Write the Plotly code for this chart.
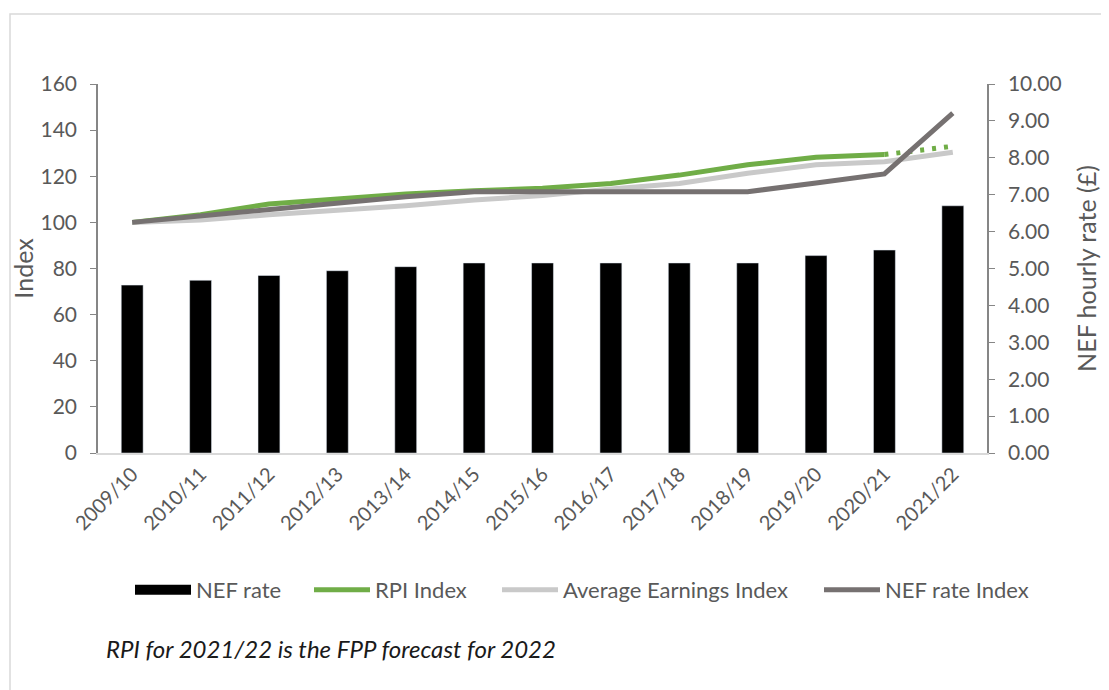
import plotly.graph_objects as go

categories = ["2009/10", "2010/11", "2011/12", "2012/13", "2013/14", "2014/15", "2015/16",
              "2016/17", "2017/18", "2018/19", "2019/20", "2020/21", "2021/22"]
nef_rate = [4.55, 4.68, 4.81, 4.94, 5.05, 5.15, 5.15, 5.15, 5.15, 5.15, 5.35, 5.50, 6.70]
rpi_index = [100, 103.3, 108.0, 110.1, 112.3, 113.7, 114.8, 116.9, 120.5, 125.0, 128.2, 129.4]
rpi_forecast = [129.4, 133.0]
aei_index = [100, 101.0, 103.3, 105.0, 107.2, 109.7, 111.6, 114.5, 116.9, 121.3, 125.0, 126.3, 130.4]
nef_index = [100, 102.9, 105.8, 108.7, 111.1, 113.3, 113.3, 113.3, 113.3, 113.3, 117.1, 121.0, 147.4]

FONT = "Lato"
TXT = "#595959"
GREEN = "#70ad47"
LIGHT = "#c9c9c9"
DARK = "#767171"

fig = go.Figure()
fig.add_trace(go.Bar(x=categories, y=nef_rate, name="NEF rate", marker_color="#000000",
                     width=0.32, yaxis="y", showlegend=False))
# legend proxy for bar (wide black box as in the reference)
fig.add_trace(go.Scatter(x=[None], y=[None], mode="lines", name="NEF rate",
                         line=dict(color="#000000", width=15), yaxis="y2", legend="legend"))
fig.add_trace(go.Scatter(x=categories[:12], y=rpi_index, mode="lines", name="RPI Index",
                         line=dict(color=GREEN, width=5), yaxis="y2", legend="legend2"))
fig.add_trace(go.Scatter(x=categories[11:], y=rpi_forecast, mode="lines", name="RPI forecast",
                         line=dict(color=GREEN, width=5, dash="4px,8px"), yaxis="y2", showlegend=False))
fig.add_trace(go.Scatter(x=categories, y=aei_index, mode="lines", name="Average Earnings Index",
                         line=dict(color=LIGHT, width=5), yaxis="y2", legend="legend3"))
fig.add_trace(go.Scatter(x=categories, y=nef_index, mode="lines", name="NEF rate Index",
                         line=dict(color=DARK, width=5), yaxis="y2", legend="legend4"))

W, H = 1109, 690
OFF = 8  # page body margin
L, T = 98 - OFF, 84 - OFF
pw, ph = 889, 369
R = W - L - pw
B = H - T - ph

def px(x):
    return (x - 98) / pw

def py(y):
    return (453 - y) / ph

leg_common = dict(orientation="h", yanchor="middle", xanchor="left", itemwidth=56,
                  font=dict(family=FONT, size=22, color=TXT), bgcolor="rgba(0,0,0,0)")

fig.update_layout(
    width=W, height=H,
    margin=dict(l=L, r=R, t=T, b=B),
    paper_bgcolor="white", plot_bgcolor="white",
    font=dict(family=FONT, color=TXT),
    xaxis=dict(type="category", range=[-0.5, 12.5], showline=True, linecolor="#d9d9d9", linewidth=1.5,
               ticks="", tickangle=-45, tickfont=dict(size=20, color=TXT, family=FONT), showgrid=False),
    yaxis=dict(side="right", range=[0, 10], dtick=1, tickformat=".2f", showline=True, linecolor="#868686",
               linewidth=1.5, ticks="outside", ticklen=6, tickcolor="#868686", showgrid=False, zeroline=False,
               tickfont=dict(size=21, color=TXT, family=FONT), ticklabelstandoff=9,
               title=dict(text="NEF hourly rate (£)", font=dict(size=25, color=TXT, family=FONT), standoff=18)),
    yaxis2=dict(overlaying="y", side="left", range=[0, 160], dtick=20, showline=True, linecolor="#868686",
                linewidth=1.5, ticks="outside", ticklen=6, tickcolor="#868686", showgrid=False, zeroline=False,
                tickfont=dict(size=21, color=TXT, family=FONT), ticklabelstandoff=9,
                title=dict(text="Index", font=dict(size=25, color=TXT, family=FONT), standoff=0)),
    legend=dict(x=px(130), y=py(590), **leg_common),
    legend2=dict(x=px(309), y=py(590), **leg_common),
    legend3=dict(x=px(497), y=py(590), **leg_common),
    legend4=dict(x=px(819), y=py(590), **leg_common),
    annotations=[dict(text="<i>RPI for 2021/22 is the FPP forecast for 2022</i>", xref="paper", yref="paper",
                      x=px(104), y=py(648), xanchor="left", yanchor="middle", showarrow=False,
                      font=dict(family=FONT, size=24, color="#1a1a1a"))],
    shapes=[dict(type="rect", xref="paper", yref="paper", x0=px(10), y0=py(720), x1=px(1140), y1=py(14),
                 line=dict(color="#d9d9d9", width=1.5), fillcolor="rgba(0,0,0,0)", layer="below")],
)

fig.write_html("out.html")
